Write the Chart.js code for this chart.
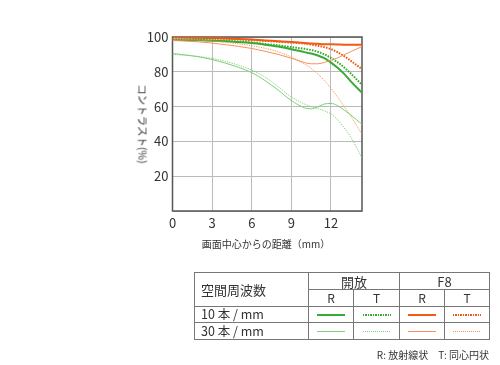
<!DOCTYPE html>
<html><head><meta charset="utf-8">
<script src="https://cdn.jsdelivr.net/npm/chart.js@4/dist/chart.umd.min.js"></script>
<style>
html,body{margin:0;padding:0;background:#fff;}
#wrap{position:relative;width:500px;height:365px;overflow:hidden;font-family:"Noto Sans CJK JP","Noto Sans",sans-serif;color:#333;}
#c{position:absolute;left:0;top:0;}
.ytitle{position:absolute;left:143px;top:124px;transform:translate(-50%,-50%) rotate(90deg);font-size:10.5px;white-space:nowrap;}
.xtitle{position:absolute;left:266px;top:243px;transform:translate(-50%,-50%);font-size:10px;white-space:nowrap;}
table{position:absolute;left:194px;top:272px;border-collapse:collapse;table-layout:fixed;}
td{border:1px solid #777;padding:0;font-size:13px;line-height:1;text-align:center;vertical-align:middle;}
td.lab{text-align:left;padding-left:6px;font-size:12.5px;}
td.rt{font-size:12px;}
.s{margin:0 auto;width:28px;}
.note{position:absolute;right:11px;top:347px;font-size:10px;white-space:nowrap;}
</style></head>
<body><div id="wrap">
<canvas id="c" width="500" height="365"></canvas>
<div class="ytitle">コントラスト(%)</div>
<div class="xtitle">画面中心からの距離（mm）</div>
<table>
<colgroup><col style="width:114px"><col style="width:45px"><col style="width:46px"><col style="width:45px"><col style="width:45px"></colgroup>
<tr style="height:17px"><td class="lab" rowspan="2" style="font-size:13px">空間周波数</td><td colspan="2">開放</td><td colspan="2">F8</td></tr>
<tr style="height:17px"><td class="rt">R</td><td class="rt">T</td><td class="rt">R</td><td class="rt">T</td></tr>
<tr style="height:16px"><td class="lab">10 本 / mm</td>
<td><div class="s" style="height:2px;background:#3aaa35"></div></td>
<td><div class="s" style="height:2px;background:repeating-linear-gradient(to right,#3aaa35 0 1.5px,transparent 1.5px 2.5px)"></div></td>
<td><div class="s" style="height:2px;background:#f05a14"></div></td>
<td><div class="s" style="height:2px;background:repeating-linear-gradient(to right,#f05a14 0 1.5px,transparent 1.5px 2.5px)"></div></td></tr>
<tr style="height:17px"><td class="lab">30 本 / mm</td>
<td><div class="s" style="height:1px;background:#7cd077"></div></td>
<td><div class="s" style="height:1px;background:repeating-linear-gradient(to right,#7cd077 0 1px,transparent 1px 2px)"></div></td>
<td><div class="s" style="height:1px;background:#f7915a"></div></td>
<td><div class="s" style="height:1px;background:repeating-linear-gradient(to right,#f7915a 0 1px,transparent 1px 2px)"></div></td></tr>
</table>
<div class="note">R: 放射線状　T: 同心円状</div>
</div>
<script>
// image height positions (mm)
const xs = [0, 2, 4, 6, 7, 8, 9, 10, 10.5, 11, 11.5, 12, 12.5, 13, 13.5, 14.35];
// contrast (%)
const open10R = [98.3, 98.1, 97.5, 96.5, 95.6, 94.5, 93.0, 91.3, 90.5, 89.4, 87.8, 85.3, 82.3, 78.8, 74.5, 68.0];
const open10T = [98.5, 98.3, 97.8, 96.8, 96.0, 95.2, 94.2, 93.2, 92.5, 91.5, 90.0, 88.0, 85.5, 82.5, 79.0, 72.5];
const f8_10R  = [99.8, 99.6, 99.2, 98.5, 98.0, 97.6, 97.1, 96.6, 96.3, 96.1, 95.9, 95.8, 95.7, 95.6, 95.6, 95.5];
const f8_10T  = [99.6, 99.4, 99.0, 98.2, 97.8, 97.3, 96.8, 96.2, 95.7, 95.0, 94.2, 93.0, 91.3, 89.0, 86.3, 81.5];
const open30R = [90.5, 88.6, 85.0, 79.5, 75.0, 69.5, 63.5, 59.3, 58.7, 59.8, 61.5, 61.8, 60.6, 58.0, 55.2, 49.8];
const open30T = [90.0, 88.8, 86.0, 81.0, 77.0, 71.5, 65.5, 61.5, 60.0, 58.8, 57.5, 55.8, 52.5, 47.8, 42.5, 30.5];
const f8_30R  = [98.0, 97.2, 95.6, 93.4, 91.8, 90.0, 87.8, 85.3, 84.6, 84.6, 85.4, 86.6, 88.0, 89.8, 91.6, 94.5];
const f8_30T  = [98.8, 98.2, 97.0, 95.0, 93.5, 91.5, 88.5, 84.5, 82.0, 78.8, 75.0, 70.5, 65.5, 60.0, 54.5, 44.0];
const xTicks = [0, 3, 6, 9, 12];
const yTicks = [0, 20, 40, 60, 80, 100];
const xMax = 14.35;

const pts = arr => arr.map((v, i) => ({x: xs[i], y: v}));
function ds(data, color, width, dotted) {
  return {data: pts(data), borderColor: color, borderWidth: width,
    borderDash: dotted ? [width > 1.5 ? 1.6 : 1.2, 1.2] : [],
    pointRadius: 0, fill: false, cubicInterpolationMode: 'monotone'};
}
const frame = {
  id: 'frame',
  beforeDatasetsDraw(chart) {
    const a = chart.chartArea, c = chart.ctx;
    c.save(); c.strokeStyle = '#555'; c.lineWidth = 1.5;
    c.strokeRect(a.left, a.top, a.right - a.left, a.bottom - a.top);
    c.restore();
  }
};
const font = {family: '"Noto Sans CJK JP","Noto Sans",sans-serif', size: 13};
new Chart(document.getElementById('c'), {
  type: 'line',
  data: {datasets: [
    ds(open30T, '#7cd077', 1, true),
    ds(open30R, '#7cd077', 1, false),
    ds(f8_30T, '#f7915a', 1, true),
    ds(f8_30R, '#f7915a', 1, false),
    ds(open10T, '#3aaa35', 2, true),
    ds(open10R, '#3aaa35', 2, false),
    ds(f8_10T, '#f05a14', 2, true),
    ds(f8_10R, '#f05a14', 2, false)
  ]},
  options: {
    responsive: false, animation: false, devicePixelRatio: 1,
    layout: {padding: {left: 0, top: 37, right: 138, bottom: 124}},
    plugins: {legend: {display: false}, tooltip: {enabled: false}},
    scales: {
      x: {type: 'linear', min: 0, max: xMax,
        afterBuildTicks: s => { s.ticks = xTicks.map(v => ({value: v})); },
        afterFit: s => { s.height = 30; },
        grid: {color: '#bbb', lineWidth: 1, drawTicks: false},
        border: {display: false},
        ticks: {padding: 4, color: '#333', font: font, maxRotation: 0}},
      y: {min: 0, max: 100,
        afterBuildTicks: s => { s.ticks = yTicks.map(v => ({value: v})); },
        afterFit: s => { s.width = 172.5; },
        grid: {color: '#bbb', lineWidth: 1, drawTicks: false},
        border: {display: false},
        ticks: {padding: 4, color: '#333', font: font, callback: v => v === 0 ? '' : v}}
    }
  },
  plugins: [frame]
});
</script>
</body></html>
